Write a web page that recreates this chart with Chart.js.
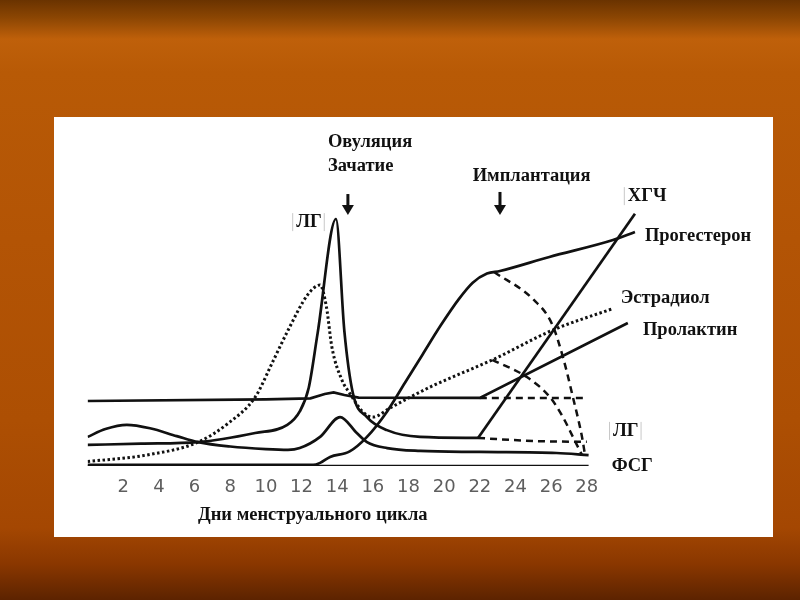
<!DOCTYPE html>
<html lang="ru">
<head>
<meta charset="utf-8">
<title>Гормоны менструального цикла</title>
<script src="https://cdn.jsdelivr.net/npm/chart.js@4.4.1/dist/chart.umd.min.js"></script>
<style>
  html, body { margin: 0; padding: 0; }
  body {
    width: 800px; height: 600px; overflow: hidden; position: relative;
    background: linear-gradient(to bottom, #6a3300 0%, #8c4603 3%, #bf600a 6.5%, #b85a06 12%, #b35405 40%, #ad4f03 70%, #a44702 88%, #8a3700 94%, #5c2300 100%);
  }
  #panel { position: absolute; left: 54px; top: 117px; width: 719px; height: 420px; background: #fff; }
  #chart { position: absolute; left: 0; top: 0; }
</style>
</head>
<body>
<div id="panel"></div>
<canvas id="chart" width="800" height="600"></canvas>
<script>
// дни цикла (подписи оси X)
const dayTicks = [2, 4, 6, 8, 10, 12, 14, 16, 18, 20, 22, 24, 26, 28];

// уровни гормонов, [день, уровень]
const lgLine = [[0, 8.1], [3, 8.6], [6.2, 9.2], [9.4, 12.7], [11.2, 15.8], [11.9, 21], [12.4, 30], [12.9, 51],
  [13.93, 95], [14.4, 52], [14.88, 28], [15.67, 18.8], [16.79, 13.8], [18.65, 11.2], [21.9, 10.8]];
const lgNoPregnancy = [[21.9, 10.8], [25, 9.6], [28, 9.3]];

const fsgLine = [[0, 11.2], [1, 14.2], [2.2, 15.8], [3.5, 14.5], [5, 11.5], [6.2, 9.2], [8, 7.5], [10, 6.5],
  [11.24, 6.2], [11.9, 6.9], [13.04, 11.2], [14.16, 18.8], [15.1, 12.7], [15.67, 9.2], [16.8, 6.9],
  [18.65, 5.8], [22, 5.4], [26.3, 5], [28.1, 4.2]];

const estradiolLine = [[0, 1.7], [3.3, 4.2], [6.2, 9.2], [7.9, 16.5], [9.4, 26.5], [10.35, 39.6], [11.25, 52.3],
  [12.36, 66], [13.04, 69.6], [13.4, 61], [13.7, 45.8], [14.27, 33], [14.7, 28], [15.44, 20.8], [16, 18.8],
  [16.96, 22.3], [18.1, 26.5], [19.4, 31], [22.7, 40.8], [26.1, 52.3], [29.4, 60.4]];
const estradiolNoPregnancy = [[22.7, 40.8], [24.64, 34.2], [25.93, 26.5], [26.66, 18.8], [27.22, 11.2], [27.73, 4.2]];

const progesteroneLine = [[0, 0.4], [12.65, 0.4], [13.04, 1.2], [13.6, 3.5], [14.7, 5.6], [15.67, 11.2],
  [16.8, 21], [17.8, 32], [18.8, 43], [19.8, 54], [20.8, 64], [21.6, 70.5], [22.4, 74],
  [23.13, 75], [25.9, 80.4], [29.47, 86.9], [30.7, 90]];
const progesteroneNoPregnancy = [[22.8, 74.6], [24.98, 64.2], [26.05, 54.6], [26.66, 41.9], [27.22, 26.5],
  [27.73, 11.2], [27.9, 4.2]];

const prolactinLine = [[0, 25], [10, 25.6], [12.5, 26], [13.3, 27.7], [13.8, 28.3], [14.4, 27.3], [15.2, 26.3],
  [22, 26.2], [30.3, 55]];
const prolactinNoPregnancy = [[22, 26.2], [28, 26.2]];

const hcgLine = [[21.9, 10.8], [30.7, 97]];

const baseLine = [[0, 0], [28.1, 0]];

function pts(arr) {
  return arr.map(p => ({ x: p[0], y: p[1] }));
}

const INK = '#111';

function solid(label, arr, smooth) {
  return {
    label: label, data: pts(arr), borderColor: INK, borderWidth: 2.7,
    cubicInterpolationMode: smooth ? 'monotone' : 'default', tension: 0
  };
}
function dashed(label, arr) {
  return {
    label: label, data: pts(arr), borderColor: INK, borderWidth: 2.5, borderDash: [7, 5],
    cubicInterpolationMode: 'monotone'
  };
}

// подписи и стрелки, координаты в единицах осей
const notes = [
  { text: 'Овуляция', day: 13.48, level: 124.6 },
  { text: 'Зачатие', day: 13.48, level: 115.4 },
  { text: 'Имплантация', day: 21.6, level: 111.5 },
  { text: 'ЛГ', day: 11.7, level: 93.8, frame: true },
  { text: 'ХГЧ', day: 30.3, level: 103.8, bar: true },
  { text: 'Прогестерон', day: 31.26, level: 88.5 },
  { text: 'Эстрадиол', day: 29.9, level: 64.6 },
  { text: 'Пролактин', day: 31.15, level: 52.3 },
  { text: 'ЛГ', day: 29.47, level: 13.5, frame: true },
  { text: 'ФСГ', day: 29.4, level: 0 },
  { text: 'Дни менструального цикла', day: 6.19, level: -18.8 }
];
const arrows = [
  { day: 14.6, from: 104.6, to: 96.5 },
  { day: 23.13, from: 105.4, to: 96.5 }
];

const notesPlugin = {
  id: 'notes',
  afterDraw(chart) {
    const ctx = chart.ctx;
    const xs = chart.scales.x, ys = chart.scales.y;
    ctx.save();
    ctx.font = 'bold 18.5px "Liberation Serif", "Times New Roman", serif';
    ctx.textBaseline = 'middle';
    ctx.textAlign = 'left';
    notes.forEach(n => {
      const x = xs.getPixelForValue(n.day);
      const y = ys.getPixelForValue(n.level);
      ctx.fillStyle = INK;
      ctx.fillText(n.text, x, y);
      if (n.frame || n.bar) {
        const w = ctx.measureText(n.text).width;
        ctx.strokeStyle = '#c8c8c8';
        ctx.lineWidth = 1;
        ctx.beginPath();
        ctx.moveTo(x - 3.5, y - 9); ctx.lineTo(x - 3.5, y + 9);
        if (n.frame) { ctx.moveTo(x + w + 2.5, y - 9); ctx.lineTo(x + w + 2.5, y + 9); }
        ctx.stroke();
      }
    });
    ctx.fillStyle = INK;
    arrows.forEach(a => {
      const x = xs.getPixelForValue(a.day);
      const y0 = ys.getPixelForValue(a.from);
      const y1 = ys.getPixelForValue(a.to);
      const head = 10;
      ctx.fillRect(x - 1.5, y0, 3, y1 - y0 - head + 1);
      ctx.beginPath();
      ctx.moveTo(x - 6, y1 - head);
      ctx.lineTo(x + 6, y1 - head);
      ctx.lineTo(x, y1);
      ctx.closePath();
      ctx.fill();
    });
    ctx.restore();
  }
};

new Chart(document.getElementById('chart'), {
  type: 'line',
  data: {
    datasets: [
      { label: 'ось', data: pts(baseLine), borderColor: INK, borderWidth: 2.4, tension: 0 },
      solid('Пролактин', prolactinLine, false),
      dashed('Пролактин (без беременности)', prolactinNoPregnancy),
      solid('ФСГ', fsgLine, true),
      solid('ЛГ', lgLine, true),
      dashed('ЛГ (без беременности)', lgNoPregnancy),
      solid('ХГЧ', hcgLine, false),
      solid('Прогестерон', progesteroneLine, true),
      dashed('Прогестерон (без беременности)', progesteroneNoPregnancy),
      {
        label: 'Эстрадиол', data: pts(estradiolLine), borderColor: INK, borderWidth: 3,
        borderDash: [2.5, 2.5], cubicInterpolationMode: 'monotone'
      },
      dashed('Эстрадиол (без беременности)', estradiolNoPregnancy)
    ]
  },
  options: {
    responsive: false,
    animation: false,
    events: [],
    elements: { point: { radius: 0 } },
    layout: { padding: { left: 87.6, right: 159.7, top: 206, bottom: 94 } },
    plugins: { legend: { display: false }, tooltip: { enabled: false } },
    scales: {
      x: {
        type: 'linear', min: 0, max: 31,
        grid: { display: false, drawTicks: false },
        border: { display: false },
        afterBuildTicks: s => { s.ticks = dayTicks.map(v => ({ value: v })); },
        afterFit: s => { s.height = 40; },
        ticks: {
          color: '#5e5e5e', padding: 11, autoSkip: false, maxRotation: 0,
          font: { family: '"DejaVu Sans", sans-serif', size: 18 }
        }
      },
      y: { min: 0, max: 100, display: false }
    }
  },
  plugins: [notesPlugin]
});
</script>
</body>
</html>
